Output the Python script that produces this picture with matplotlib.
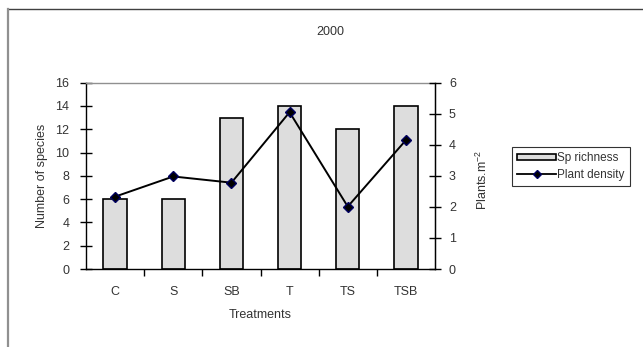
import matplotlib
matplotlib.use("Agg")
import matplotlib.pyplot as plt
from matplotlib.lines import Line2D
from matplotlib.patches import Patch
import numpy as np

plt.rcParams['font.family'] = ['Liberation Sans', 'DejaVu Sans']

treatments = ["C", "S", "SB", "T", "TS", "TSB"]
species_richness = [6, 6, 13, 14, 12, 14]
plant_density = [2.33, 2.98, 2.78, 5.05, 2.01, 4.15]

W, H = 643, 347
fig = plt.figure(figsize=(W / 100, H / 100), dpi=100)
fig.patch.set_facecolor("white")

ax = fig.add_axes([86 / W, 1 - 269 / H, 349 / W, 186.3 / H])
x = np.arange(len(treatments))
text_col = "#333333"

ax.bar(x, species_richness, width=0.4, color="#dddddd", edgecolor="black",
       linewidth=1.2, zorder=2)
ax.set_xlim(-0.5, len(treatments) - 0.5)
ax.set_ylim(0, 16)
ax.set_yticks(range(0, 17, 2))
ax.set_xticks(x)
ax.set_xticklabels(treatments)
ax.set_xticks(np.arange(0.5, len(treatments) - 0.5, 1), minor=True)
ax.tick_params(axis="x", which="major", length=0, pad=12, labelsize=9, labelcolor=text_col)
ax.tick_params(axis="x", which="minor", length=5, width=1, direction="out", color="black")
ax.tick_params(axis="y", length=8, width=1, direction="inout", pad=8,
               labelsize=9, labelcolor=text_col)
for s in ("left", "bottom", "right"):
    ax.spines[s].set_color("black")
    ax.spines[s].set_linewidth(1.0)
ax.spines["top"].set_color("#909090")
ax.spines["top"].set_linewidth(1.0)
ax.set_xlabel("Treatments", fontsize=9, color=text_col, labelpad=8)
ax.set_ylabel("Number of species", fontsize=9, color=text_col, labelpad=5)

ax2 = ax.twinx()
ax2.plot(x, plant_density, color="black", linewidth=1.4, marker="D",
         markersize=5, markerfacecolor="black", markeredgecolor="#000060", zorder=3)
ax2.set_ylim(0, 6)
ax2.set_yticks(range(0, 7))
ax2.tick_params(axis="y", length=8, width=1, direction="inout", pad=6,
                labelsize=9, labelcolor=text_col)
for s in ("left", "bottom", "top"):
    ax2.spines[s].set_visible(False)
ax2.spines["right"].set_color("black")
ax2.set_ylabel("Plants.m$^{\\mathregular{-2}}$", fontsize=9, color=text_col)
ax2.yaxis.set_label_coords(1.115, 0.48)

fig.text(330 / W, 1 - 32 / H, "2000", ha="center", va="center", fontsize=9, color=text_col)

handles = [
    Patch(facecolor="#dddddd", edgecolor="black", linewidth=1.2, label="Sp richness"),
    Line2D([0], [0], color="black", linewidth=1.3, marker="D", markersize=4,
           markerfacecolor="black", markeredgecolor="#000060", label="Plant density"),
]
leg = fig.legend(handles=handles, loc="upper left",
                 bbox_to_anchor=(512 / W, 1 - 147 / H), frameon=True, fancybox=False,
                 fontsize=8.5, handlelength=3.3, handleheight=0.45, handletextpad=0.1,
                 borderpad=0.45, labelspacing=0.4, borderaxespad=0)
leg.get_frame().set_edgecolor("black")
leg.get_frame().set_linewidth(0.8)
for t in leg.get_texts():
    t.set_color(text_col)

# outer chart border
fig.add_artist(Line2D([8 / W, 1], [1 - 9 / H, 1 - 9 / H], transform=fig.transFigure,
                      color="#404040", linewidth=1.0))
fig.add_artist(Line2D([8 / W, 8 / W], [0, 1 - 9 / H], transform=fig.transFigure,
                      color="#909090", linewidth=1.6))

fig.savefig("out.png", dpi=100)
